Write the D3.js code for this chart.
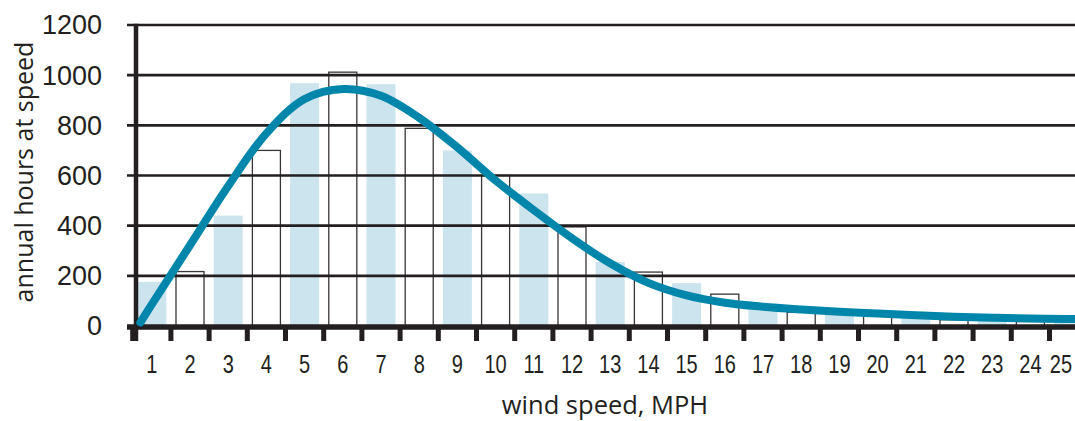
<!DOCTYPE html>
<html>
<head>
<meta charset="utf-8">
<script src="https://cdn.jsdelivr.net/npm/d3@7/dist/d3.min.js"></script>
<style>
  html, body { margin: 0; padding: 0; background: #fff; }
  svg { display: block; }
</style>
</head>
<body>
<svg id="chart" width="1075" height="421"></svg>
<script>
// ---- data ----
const categories = ["1","2","3","4","5","6","7","8","9","10","11","12","13","14","15","16","17","18","19","20","21","22","23","24","25"];
const hoursAtSpeed = [176, 217, 440, 700, 968, 1012, 964, 788, 700, 600, 528, 395, 255, 215, 171, 127, 68, 55, 50, 40, 30, 25, 20, 18, 15];
const curveSpeeds = [0.7, 1, 2, 3, 4, 5, 6, 7, 8, 9, 10, 11, 12, 13, 14, 15, 16, 17, 18, 19, 20, 21, 22, 23, 24, 25, 25.3];
const curveHours  = [14, 86, 322, 558, 768, 905, 945, 918, 830, 712, 580, 462, 350, 250, 172, 122, 93, 77, 66, 57, 50, 43, 37, 33, 30, 28, 27];
const yTicks = [0, 200, 400, 600, 800, 1000, 1200];
const xTitle = "wind speed, MPH";
const yTitle = "annual hours at speed";

// ---- layout ----
const W = 1075, H = 421;
const ink = "#231f20";
const svg = d3.select("#chart");
svg.append("rect").attr("width", W).attr("height", H).attr("fill", "#fff");

const y = d3.scaleLinear().domain([0, 1200]).range([326, 25]);
const x = d3.scaleBand().domain(categories).range([135, 1085.4]).paddingInner(0.24).paddingOuter(0.06);
const bw = x.bandwidth();
const step = x.step();
const xc = d3.scaleLinear().domain([1, 25]).range([x("1") + bw / 2, x("25") + bw / 2]);

// bars
svg.append("g").selectAll("rect").data(categories).join("rect")
  .attr("x", (d, i) => i % 2 === 0 ? x(d) : x(d) + 0.5)
  .attr("y", (d, i) => y(hoursAtSpeed[i]))
  .attr("width", (d, i) => i % 2 === 0 ? bw : bw - 1)
  .attr("height", (d, i) => y(0) - y(hoursAtSpeed[i]))
  .attr("fill", (d, i) => i % 2 === 0 ? "#cce4ee" : "#fff")
  .attr("stroke", (d, i) => i % 2 === 0 ? "none" : "#3a3637")
  .attr("stroke-width", 1.3);

// gridlines
svg.append("g").selectAll("line").data(yTicks.filter(v => v > 0)).join("line")
  .attr("x1", 127).attr("x2", W)
  .attr("y1", d => y(d)).attr("y2", d => y(d))
  .attr("stroke", ink).attr("stroke-width", 2.6);

// bottom axis line
svg.append("line").attr("x1", 127).attr("x2", W)
  .attr("y1", y(0) + 1).attr("y2", y(0) + 1)
  .attr("stroke", ink).attr("stroke-width", 5.5);

// x tick marks at band boundaries
const boundaries = categories.map((d, i) => x(d) - step * 0.12);
svg.append("g").selectAll("line").data(boundaries).join("line")
  .attr("x1", d => d).attr("x2", d => d)
  .attr("y1", y(0) + 2).attr("y2", 341)
  .attr("stroke", ink).attr("stroke-width", 5);

// y axis line
svg.append("line").attr("x1", 136).attr("x2", 136)
  .attr("y1", y(1200) - 1.3).attr("y2", 341)
  .attr("stroke", ink).attr("stroke-width", 4.5);

// x axis labels (condensed)
const xAxis = d3.axisBottom(x).tickSize(0).tickPadding(0);
const gx = svg.append("g").call(xAxis);
gx.select(".domain").remove();
const squeeze = 0.8;
gx.selectAll("text")
  .attr("y", 373).attr("dy", 0)
  .attr("fill", ink)
  .attr("transform", `scale(${squeeze},1)`)
  .style("font-family", "'Liberation Sans', Arial, sans-serif")
  .style("font-size", "25px");
// keep the last label inside the picture
gx.selectAll(".tick").each(function(d) {
  const t = d3.select(this).select("text");
  const w = t.node().getComputedTextLength() * squeeze;
  const cx = x(d) + bw / 2;
  const over = cx + w / 2 - (W - 3);
  if (over > 0) t.attr("x", -over / squeeze);
});

// y axis labels
const yAxis = d3.axisLeft(y).tickValues(yTicks).tickFormat(d3.format("d")).tickSize(0).tickPadding(0);
const gy = svg.append("g").attr("transform", "translate(102,0)").call(yAxis);
gy.select(".domain").remove();
gy.selectAll("text")
  .attr("x", 0).attr("dy", "0.33em")
  .attr("fill", ink)
  .style("font-family", "'Liberation Sans', Arial, sans-serif")
  .style("font-size", "27px");

// curve
const pts = curveSpeeds.map((s, i) => [s, curveHours[i]]);
const line = d3.line()
  .x(d => xc(d[0]))
  .y(d => y(d[1]))
  .curve(d3.curveCatmullRom.alpha(0.5));
svg.append("path").datum(pts)
  .attr("d", line)
  .attr("fill", "none")
  .attr("stroke", "#0086ab")
  .attr("stroke-width", 8)
  .attr("stroke-linecap", "round")
  .attr("stroke-linejoin", "round");

// titles
svg.append("text")
  .attr("x", 605).attr("y", 414)
  .attr("text-anchor", "middle")
  .attr("fill", ink)
  .style("font-family", "'Open Sans', 'Noto Sans', sans-serif")
  .style("font-size", "25.5px")
  .text(xTitle);

svg.append("text")
  .attr("transform", "translate(33,172) rotate(-90)")
  .attr("text-anchor", "middle")
  .attr("fill", ink)
  .style("font-family", "'Open Sans', 'Noto Sans', sans-serif")
  .style("font-size", "25px")
  .text(yTitle);
</script>
</body>
</html>
